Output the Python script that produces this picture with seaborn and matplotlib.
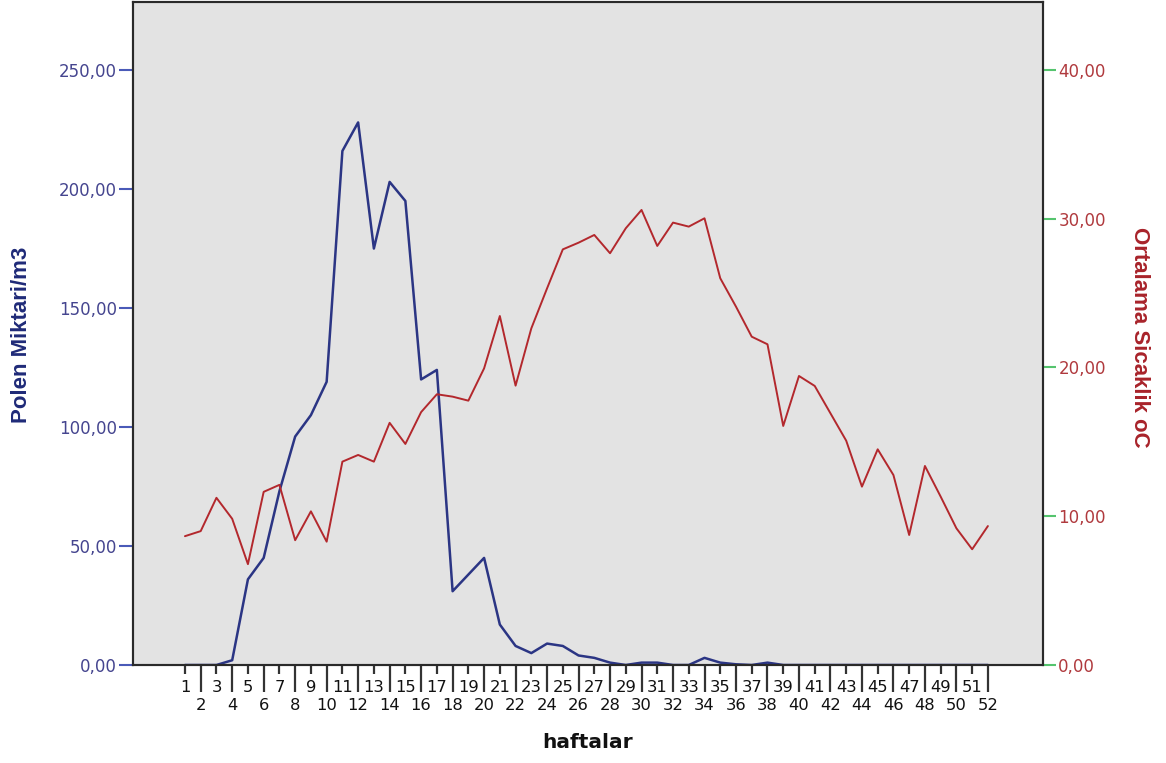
import matplotlib
matplotlib.use("Agg")
import matplotlib.pyplot as plt
import pandas as pd
import seaborn as sns

# Weekly pollen counts and mean temperature
weeks = list(range(1, 53))
pollen = [0, 0, 0, 2, 36, 45, 73, 96, 105, 119,
          216, 228, 175, 203, 195, 120, 124, 31, 38, 45,
          17, 8, 5, 9, 8, 4, 3, 1, 0, 1,
          1, 0, 0, 3, 1, 0.3, 0, 1, 0, 0,
          0, 0, 0, 0, 0, 0, 0, 0, 0, 0, 0, 0]
temperature = [8.66, 9.0, 11.24, 9.83, 6.78, 11.64, 12.11, 8.39, 10.33, 8.29,
               13.67, 14.12, 13.67, 16.28, 14.86, 17.0, 18.2, 18.04, 17.77, 19.94,
               23.46, 18.78, 22.63, 25.32, 27.94, 28.39, 28.91, 27.68, 29.36, 30.59,
               28.17, 29.74, 29.47, 30.03, 26.0, 24.09, 22.07, 21.56, 16.07, 19.43,
               18.76, 16.92, 15.08, 11.99, 14.5, 12.77, 8.74, 13.38, 11.32, 9.19,
               7.78, 9.34]
left_ticks = [0, 50, 100, 150, 200, 250]
right_ticks = [0, 10, 20, 30, 40]

x_label = "haftalar"
left_label = "Polen Miktari/m3"
right_label = "Ortalama Sicaklik oC"

sns.set_style("white")
plt.rcParams["font.family"] = ["DejaVu Sans"]

df = pd.DataFrame({"hafta": weeks, "polen": pollen, "sicaklik": temperature})

fig = plt.figure(figsize=(11.66, 7.63), dpi=100)
ax = fig.add_axes([133 / 1166, 1 - 665 / 763, (1043 - 133) / 1166, (665 - 2) / 763])
ax.set_facecolor("#e3e3e3")

sns.lineplot(data=df, x="hafta", y="polen", ax=ax, color="#2b3584",
             linewidth=1.8, zorder=2)
ax2 = ax.twinx()
sns.lineplot(data=df, x="hafta", y="sicaklik", ax=ax2, color="#b3282d",
             linewidth=1.4)

ax.set_xlim(-2.3, 55.5)
ax.set_ylim(0, 278.6)
ax2.set_ylim(0, 44.57)

def fmt(v):
    return f"{v:.2f}".replace(".", ",")

ax.set_yticks(left_ticks)
ax.set_yticklabels([fmt(v) for v in left_ticks])
ax2.set_yticks(right_ticks)
ax2.set_yticklabels([fmt(v) for v in right_ticks])

odd = [w for w in weeks if w % 2 == 1]
even = [w for w in weeks if w % 2 == 0]
ax.set_xticks(odd)
ax.set_xticklabels([str(w) for w in odd])
ax.set_xticks(even, minor=True)
ax.set_xticklabels([str(w) for w in even], minor=True)

ax.tick_params(axis="x", which="major", length=6.5, width=1.6, color="#333333",
               pad=4.5, labelsize=11.8, labelcolor="#111111", bottom=True)
ax.tick_params(axis="x", which="minor", length=19.5, width=1.6, color="#333333",
               pad=4.0, labelsize=11.8, labelcolor="#111111", bottom=True)
ax.tick_params(axis="y", which="major", length=10, width=1.5, color="#4a5ab8",
               pad=1.5, labelsize=12, labelcolor="#45458f", left=True)
ax2.tick_params(axis="y", which="major", length=9.5, width=1.5, color="#55c46e",
                pad=1.5, labelsize=12, labelcolor="#b03a3e", right=True)

for a in (ax, ax2):
    for s in a.spines.values():
        s.set_visible(True)
        s.set_color("#2a2a2a")
        s.set_linewidth(1.5)

ax.set_xlabel("")
ax.set_ylabel("")
ax2.set_ylabel("")
ax.grid(False)
ax2.grid(False)

fig.text(588 / 1166, 1 - 742 / 763, x_label, ha="center", va="center",
         fontsize=14.5, fontweight="bold", color="#111111")
fig.text(22 / 1166, 1 - 335 / 763, left_label, ha="center", va="center",
         rotation=90, fontsize=16, fontweight="bold", color="#1f2a78",
         family=["Liberation Sans Narrow", "Liberation Sans", "DejaVu Sans"])
fig.text(1140 / 1166, 1 - 337 / 763, right_label, ha="center", va="center",
         rotation=270, fontsize=16, fontweight="bold", color="#a8232a",
         family=["Liberation Sans Narrow", "Liberation Sans", "DejaVu Sans"])

fig.savefig("out.png", dpi=100, facecolor="white")
